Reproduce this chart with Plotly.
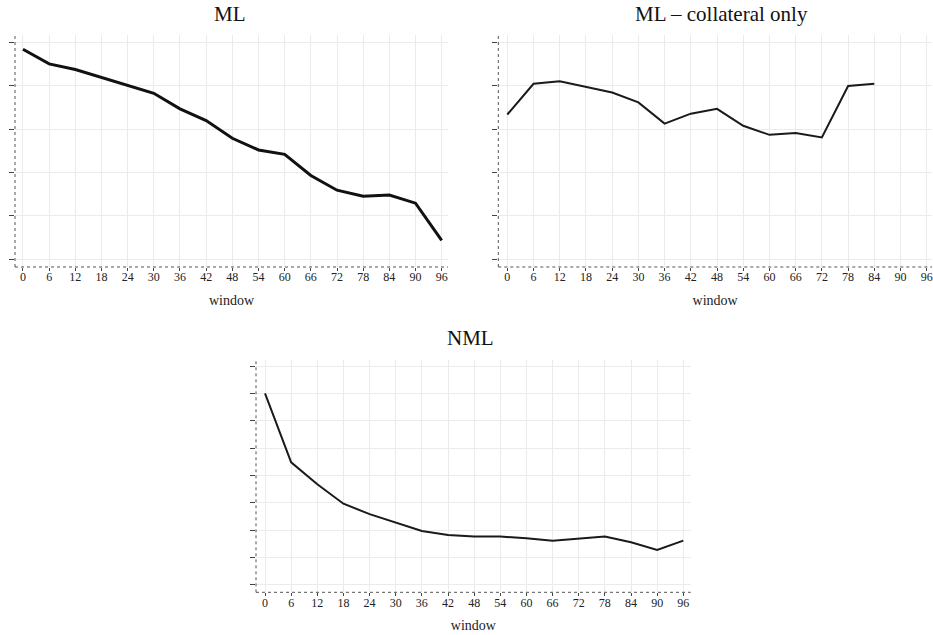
import plotly.graph_objects as go

window = [0, 6, 12, 18, 24, 30, 36, 42, 48, 54, 60, 66, 72, 78, 84, 90, 96]
x_ticks = window

ml = [4.85, 4.51, 4.38, 4.20, 4.02, 3.83, 3.47, 3.20, 2.79, 2.52, 2.42, 1.93, 1.59, 1.45, 1.48, 1.29, 0.43]
ml_coll_window = [0, 6, 12, 18, 24, 30, 36, 42, 48, 54, 60, 66, 72, 78, 84]
ml_coll = [3.34, 4.05, 4.11, 3.98, 3.85, 3.62, 3.13, 3.36, 3.47, 3.08, 2.87, 2.91, 2.81, 4.00, 4.05]
nml = [7.00, 4.48, 3.68, 2.97, 2.59, 2.28, 1.97, 1.83, 1.77, 1.77, 1.71, 1.62, 1.69, 1.77, 1.56, 1.28, 1.62]

titles = ["ML", "ML \u2013 collateral only", "NML"]
x_title = "window"

W, H = 933, 635
def px(v):
    return v / W
def py(v):
    return 1 - v / H

fig = go.Figure()
fig.add_trace(go.Scatter(x=window, y=ml, mode="lines", line=dict(color="#111111", width=3),
                         xaxis="x", yaxis="y", showlegend=False))
fig.add_trace(go.Scatter(x=ml_coll_window, y=ml_coll, mode="lines", line=dict(color="#1a1a1a", width=2),
                         xaxis="x2", yaxis="y2", showlegend=False))
fig.add_trace(go.Scatter(x=window, y=nml, mode="lines", line=dict(color="#1a1a1a", width=2),
                         xaxis="x3", yaxis="y3", showlegend=False))

font = "Liberation Serif"
def xax(domain, rng, anchor):
    return dict(domain=domain, range=rng, anchor=anchor, tickmode="array", tickvals=x_ticks,
                ticktext=[str(t) for t in x_ticks], showgrid=True, gridcolor="#ebebeb", gridwidth=1,
                zeroline=False, showline=False, ticks="outside", ticklen=3, tickcolor="#444",
                ticklabelstandoff=-4,
                tickfont=dict(family=font, size=12, color="#222"),
                title=dict(text=x_title, font=dict(family=font, size=14, color="#222"), standoff=11))

def yax(domain, rng, anchor, nt):
    return dict(domain=domain, range=rng, anchor=anchor, tickmode="array", tickvals=list(range(nt)),
                showticklabels=False, showgrid=True, gridcolor="#ebebeb", gridwidth=1,
                zeroline=False, showline=False, ticks="outside", ticklen=5, tickcolor="#444")

layout = dict(
    width=W, height=H, margin=dict(l=0, r=0, t=0, b=0),
    paper_bgcolor="white", plot_bgcolor="white",
    xaxis=xax([px(15), px(448)], [-1.83, 97.45], "y"),
    yaxis=yax([py(267), py(35)], [-0.185, 5.178], "x", 6),
    xaxis2=xax([px(498.3), px(932)], [-2.06, 97.2], "y2"),
    yaxis2=yax([py(267), py(35)], [-0.185, 5.178], "x2", 6),
    xaxis3=xax([px(256), px(690.7)], [-2.07, 97.7], "y3"),
    yaxis3=yax([py(592.3), py(360)], [-0.267, 8.22], "x3", 9),
)
fig.update_layout(**layout)

for ax, ay in [("x", "y"), ("x2", "y2"), ("x3", "y3")]:
    fig.add_shape(type="line", xref=ax + " domain", yref=ay + " domain", x0=0, x1=1, y0=0, y1=0,
                  line=dict(color="#555", width=1, dash="dot"))
    fig.add_shape(type="line", xref=ax + " domain", yref=ay + " domain", x0=0, x1=0, y0=0, y1=1,
                  line=dict(color="#555", width=1, dash="dot"))

for text, cx, cy in [(titles[0], 229.7, 14), (titles[1], 721.5, 14), (titles[2], 471, 338)]:
    fig.add_annotation(text=text, x=px(cx), y=py(cy), xref="paper", yref="paper",
                       showarrow=False, xanchor="center", yanchor="middle",
                       font=dict(family=font, size=21, color="#111"))

fig.write_html("out.html", config={"displayModeBar": False},
               post_script="document.body.style.margin='0';document.body.style.overflow='hidden';")
